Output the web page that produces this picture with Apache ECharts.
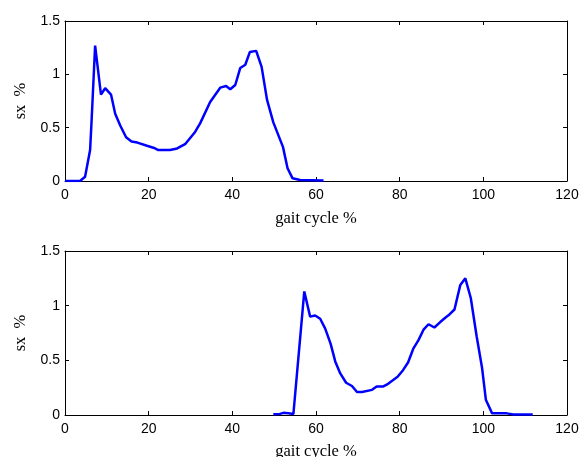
<!DOCTYPE html>
<html>
<head>
<meta charset="utf-8">
<script src="https://cdn.jsdelivr.net/npm/echarts@6/dist/echarts.min.js"></script>
<style>
  html, body { margin: 0; padding: 0; background: #fff; }
  #chart { width: 581px; height: 457px; }
</style>
</head>
<body>
<div id="chart"></div>
<script>
  // top subplot
  var topCycle = [0, 3.6, 4.8, 6.0, 6.4, 7.2, 8.6, 9.6, 11.0, 12.0, 13.2, 14.6, 15.9, 17.3, 19.6, 21.3, 22.3, 25.1, 26.8, 28.7, 31.1, 32.3, 34.7, 37.1, 38.5, 39.5, 40.7, 41.9, 43.1, 44.2, 45.7, 47.0, 48.3, 49.8, 52.1, 53.2, 54.4, 56.2, 61.8]
  var topSx = [0, 0, 0.04, 0.29, 0.60, 1.27, 0.81, 0.87, 0.81, 0.63, 0.52, 0.41, 0.37, 0.36, 0.33, 0.31, 0.29, 0.29, 0.305, 0.345, 0.46, 0.54, 0.74, 0.875, 0.89, 0.86, 0.90, 1.06, 1.09, 1.21, 1.22, 1.07, 0.76, 0.55, 0.32, 0.12, 0.025, 0.01, 0.005]
  // bottom subplot
  var bottomCycle = [49.8, 51.4, 52.2, 53.4, 54.6, 57.2, 58.6, 59.8, 61.0, 62.2, 63.5, 64.6, 65.8, 67.2, 68.6, 69.8, 71.0, 73.4, 74.5, 76.0, 77.0, 79.5, 80.8, 82.0, 83.3, 84.5, 85.7, 86.9, 88.3, 89.7, 90.9, 91.9, 93.1, 94.5, 95.7, 97.0, 98.4, 99.7, 100.6, 102.1, 105.6, 107.2, 111.8]
  var bottomSx = [0.006, 0.01, 0.02, 0.015, 0.01, 1.13, 0.90, 0.91, 0.88, 0.79, 0.65, 0.49, 0.38, 0.295, 0.265, 0.21, 0.21, 0.23, 0.26, 0.26, 0.28, 0.35, 0.41, 0.48, 0.61, 0.685, 0.78, 0.83, 0.80, 0.85, 0.89, 0.92, 0.965, 1.19, 1.25, 1.07, 0.72, 0.43, 0.14, 0.015, 0.015, 0.005, 0.005]

  var xTitle = 'gait cycle %'
  var yTitle = 'sx  %'

  function pairs(xs, ys) {
    return xs.map(function (x, i) { return [x, ys[i]] })
  }

  var labelFont = { color: '#000', fontSize: 14, fontFamily: 'Liberation Sans' }
  var titleFont = { color: '#000', fontSize: 16.5, fontFamily: 'Liberation Serif' }
  var lineBlack = { show: true, onZero: false, lineStyle: { color: '#000', width: 1 } }
  var tickIn = { show: true, inside: true, length: 4, lineStyle: { color: '#000' } }

  function xAxes(grid, gap) {
    return [{
      type: 'value', gridIndex: grid, position: 'bottom',
      min: 0, max: 120, interval: 20,
      axisLine: lineBlack, axisTick: tickIn,
      axisLabel: Object.assign({ margin: 7 }, labelFont),
      splitLine: { show: false },
      name: xTitle, nameLocation: 'middle', nameGap: gap, nameTextStyle: titleFont
    }, {
      type: 'value', gridIndex: grid, position: 'top',
      min: 0, max: 120, interval: 20,
      axisLine: lineBlack, axisTick: tickIn,
      axisLabel: { show: false }, splitLine: { show: false }
    }]
  }

  function yAxes(grid) {
    return [{
      type: 'value', gridIndex: grid, position: 'left',
      min: 0, max: 1.5, interval: 0.5,
      axisLine: lineBlack, axisTick: tickIn,
      axisLabel: Object.assign({ margin: 5 }, labelFont),
      splitLine: { show: false },
      name: yTitle, nameLocation: 'middle', nameGap: 35, nameTextStyle: titleFont
    }, {
      type: 'value', gridIndex: grid, position: 'right',
      min: 0, max: 1.5, interval: 0.5,
      axisLine: lineBlack, axisTick: tickIn,
      axisLabel: { show: false }, splitLine: { show: false }
    }]
  }

  var myChart = echarts.init(document.getElementById('chart'))
  var option = {
    animation: false,
    backgroundColor: '#fff',
    grid: [
      { left: 65, top: 21, width: 502, height: 160, outerBoundsMode: 'none' },
      { left: 65, top: 251, width: 502, height: 164, outerBoundsMode: 'none' }
    ],
    xAxis: xAxes(0, 29).concat(xAxes(1, 28)),
    yAxis: yAxes(0).concat(yAxes(1)),
    series: [{
      type: 'line',
      xAxisIndex: 0, yAxisIndex: 0,
      data: pairs(topCycle, topSx),
      symbol: 'none',
      lineStyle: { color: '#0000ff', width: 2.5 }
    }, {
      type: 'line',
      xAxisIndex: 2, yAxisIndex: 2,
      data: pairs(bottomCycle, bottomSx),
      symbol: 'none',
      lineStyle: { color: '#0000ff', width: 2.5 }
    }]
  }
  option && myChart.setOption(option)
</script>
</body>
</html>
